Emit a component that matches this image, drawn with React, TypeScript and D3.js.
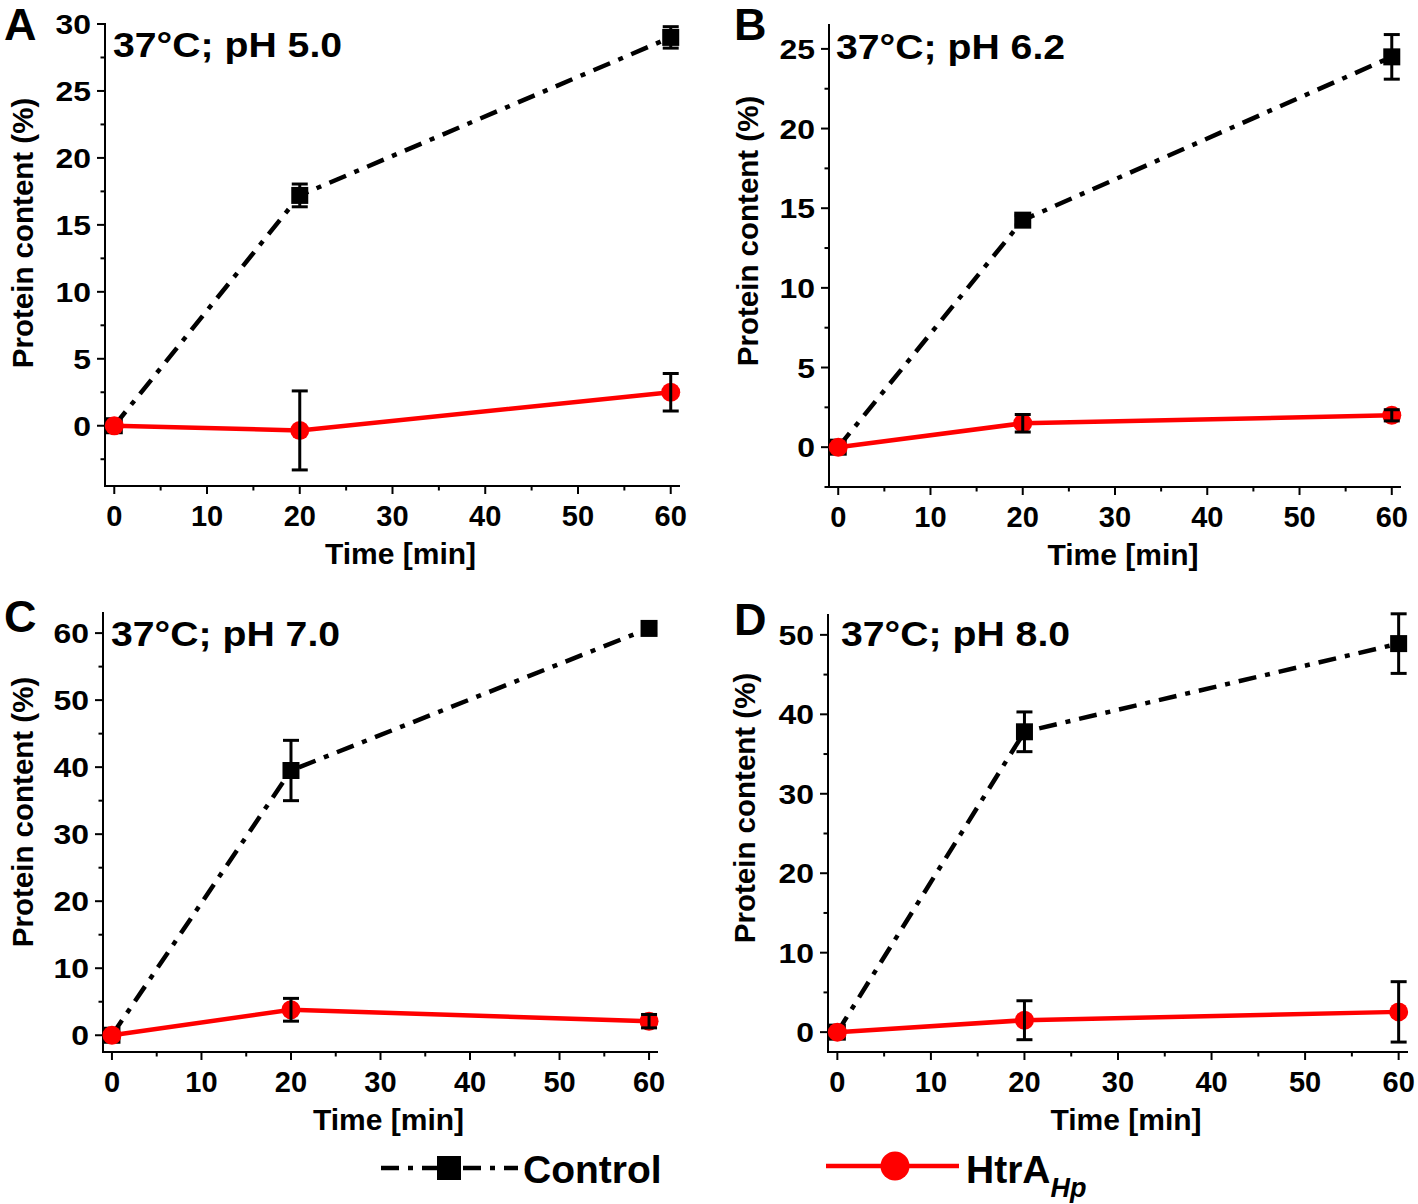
import React from "react";
import * as d3 from "d3";

const times = [0, 20, 60];
const panelLetters = ["A", "B", "C", "D"];
const panelTitles = ["37°C; pH 5.0", "37°C; pH 6.2", "37°C; pH 7.0", "37°C; pH 8.0"];

const controlA = [0, 17.2, 29.0];
const controlErrA = [0, 0.85, 0.8];
const htraA = [0, -0.35, 2.5];
const htraErrA = [0, 2.95, 1.4];

const controlB = [0, 14.25, 24.5];
const controlErrB = [0, 0.3, 1.4];
const htraB = [0, 1.5, 2.0];
const htraErrB = [0, 0.55, 0.35];

const controlC = [0, 39.5, 60.7];
const controlErrC = [0, 4.5, 0.8];
const htraC = [0, 3.8, 2.1];
const htraErrC = [0, 1.7, 1.0];

const controlD = [0, 37.8, 48.9];
const controlErrD = [0, 2.5, 3.75];
const htraD = [0, 1.5, 2.55];
const htraErrD = [0, 2.45, 3.8];

const xDomain = [-1, 61];
const xMajorTicks = [0, 10, 20, 30, 40, 50, 60];
const xMinorTicks = [5, 15, 25, 35, 45, 55];

const yDomainA = [-4.5, 30];
const yMajorA = [0, 5, 10, 15, 20, 25, 30];
const yMinorA = [-2.5, 2.5, 7.5, 12.5, 17.5, 22.5, 27.5];
const yDomainB = [-2.5, 26.5];
const yMajorB = [0, 5, 10, 15, 20, 25];
const yMinorB = [-2.5, 2.5, 7.5, 12.5, 17.5, 22.5];
const yDomainC = [-2.5, 63];
const yMajorC = [0, 10, 20, 30, 40, 50, 60];
const yMinorC = [5, 15, 25, 35, 45, 55];
const yDomainD = [-2.5, 52.5];
const yMajorD = [0, 10, 20, 30, 40, 50];
const yMinorD = [5, 15, 25, 35, 45];

const xTitle = "Time [min]";
const yTitle = "Protein content (%)";
const legendLabels = ["Control", "HtrA", "Hp"];

const FONT = "'Liberation Sans', Arial, Helvetica, sans-serif";
const RED = "#ff0000";
const DASH = "18,9,5,9";

// layout (pixel geometry) for each panel
const layouts = [
  { x0: 105, x1: 680, yb: 486, yt: 24, titleX: 113, titleY: 57, letterX: 4, letterY: 40, yTitleX: 22, yTitleY: 233 },
  { x0: 829, x1: 1401, yb: 487, yt: 25, titleX: 836, titleY: 59, letterX: 734, letterY: 40, yTitleX: 747, yTitleY: 231 },
  { x0: 103, x1: 658, yb: 1052, yt: 613, titleX: 111, titleY: 646, letterX: 4, letterY: 632, yTitleX: 22, yTitleY: 812 },
  { x0: 828, x1: 1408, yb: 1052, yt: 615, titleX: 841, titleY: 646, letterX: 734, letterY: 635, yTitleX: 744, yTitleY: 808 },
];

const panels = [
  { control: controlA, controlErr: controlErrA, htra: htraA, htraErr: htraErrA, yDomain: yDomainA, yMajor: yMajorA, yMinor: yMinorA },
  { control: controlB, controlErr: controlErrB, htra: htraB, htraErr: htraErrB, yDomain: yDomainB, yMajor: yMajorB, yMinor: yMinorB },
  { control: controlC, controlErr: controlErrC, htra: htraC, htraErr: htraErrC, yDomain: yDomainC, yMajor: yMajorC, yMinor: yMinorC },
  { control: controlD, controlErr: controlErrD, htra: htraD, htraErr: htraErrD, yDomain: yDomainD, yMajor: yMajorD, yMinor: yMinorD },
];

function Panel({ idx }: { idx: number }) {
  const p = panels[idx];
  const L = layouts[idx];
  const x = d3.scaleLinear().domain(xDomain).range([L.x0, L.x1]);
  const y = d3.scaleLinear().domain(p.yDomain).range([L.yb, L.yt]);
  const line = d3
    .line<number>()
    .x((_, i) => x(times[i]))
    .y((d) => y(d));
  const majorLen = 8;
  const minorLen = 4.5;
  const cap = 8;

  const errBars = (vals: number[], errs: number[], key: string) =>
    vals.map((v, i) =>
      errs[i] > 0 ? (
        <g key={key + i} stroke="#000" strokeWidth={3}>
          <line x1={x(times[i])} x2={x(times[i])} y1={y(v - errs[i])} y2={y(v + errs[i])} />
          <line x1={x(times[i]) - cap} x2={x(times[i]) + cap} y1={y(v - errs[i])} y2={y(v - errs[i])} />
          <line x1={x(times[i]) - cap} x2={x(times[i]) + cap} y1={y(v + errs[i])} y2={y(v + errs[i])} />
        </g>
      ) : null
    );

  return (
    <g>
      {/* axes */}
      <line x1={L.x0} x2={L.x0} y1={L.yb} y2={L.yt - 1} stroke="#000" strokeWidth={2} />
      <line x1={L.x0 - 1} x2={L.x1} y1={L.yb} y2={L.yb} stroke="#000" strokeWidth={2} />
      {p.yMajor.map((t) => (
        <g key={"ym" + t}>
          <line x1={L.x0 - majorLen} x2={L.x0} y1={y(t)} y2={y(t)} stroke="#000" strokeWidth={2} />
          <text
            transform={`translate(${L.x0 - 14},${y(t) + 10}) scale(1.12,1)`}
            textAnchor="end"
            fontFamily={FONT}
            fontWeight="bold"
            fontSize={28.5}
          >
            {t}
          </text>
        </g>
      ))}
      {p.yMinor.map((t) => (
        <line key={"yn" + t} x1={L.x0 - minorLen} x2={L.x0} y1={y(t)} y2={y(t)} stroke="#000" strokeWidth={2} />
      ))}
      {xMajorTicks.map((t) => (
        <g key={"xm" + t}>
          <line x1={x(t)} x2={x(t)} y1={L.yb} y2={L.yb + majorLen} stroke="#000" strokeWidth={2} />
          <text x={x(t)} y={L.yb + 40} textAnchor="middle" fontFamily={FONT} fontWeight="bold" fontSize={29}>
            {t}
          </text>
        </g>
      ))}
      {xMinorTicks.map((t) => (
        <line key={"xn" + t} x1={x(t)} x2={x(t)} y1={L.yb} y2={L.yb + minorLen} stroke="#000" strokeWidth={2} />
      ))}
      <text
        x={(L.x0 + L.x1) / 2 + 8}
        y={L.yb + 78}
        textAnchor="middle"
        fontFamily={FONT}
        fontWeight="bold"
        fontSize={30}
      >
        {xTitle}
      </text>
      <text
        transform={`translate(${L.yTitleX + 11},${L.yTitleY}) rotate(-90)`}
        textAnchor="middle"
        fontFamily={FONT}
        fontWeight="bold"
        fontSize={29.5}
      >
        {yTitle}
      </text>
      <text
        transform={`translate(${L.titleX},${L.titleY}) scale(1.12,1)`}
        fontFamily={FONT}
        fontWeight="bold"
        fontSize={35}
      >
        {panelTitles[idx]}
      </text>
      <text x={L.letterX} y={L.letterY} fontFamily={FONT} fontWeight="bold" fontSize={45}>
        {panelLetters[idx]}
      </text>

      {/* control series */}
      <path d={line(p.control) || ""} fill="none" stroke="#000" strokeWidth={4.5} strokeDasharray={DASH} />
      {p.control.map((v, i) => (
        <rect key={"cs" + i} x={x(times[i]) - 8.5} y={y(v) - 8.5} width={17} height={17} fill="#000" />
      ))}
      {errBars(p.control, p.controlErr, "ce")}

      {/* HtrA series */}
      <path d={line(p.htra) || ""} fill="none" stroke={RED} strokeWidth={4.5} />
      {p.htra.map((v, i) => (
        <circle key={"hc" + i} cx={x(times[i])} cy={y(v)} r={9.5} fill={RED} />
      ))}
      {errBars(p.htra, p.htraErr, "he")}
    </g>
  );
}

export default function App() {
  return (
    <svg
      width={1418}
      height={1204}
      viewBox="0 0 1418 1204"
      style={{ position: "absolute", left: 0, top: 0, background: "#fff", display: "block" }}
    >
      <rect x={0} y={0} width={1418} height={1204} fill="#fff" />
      {[0, 1, 2, 3].map((i) => (
        <Panel key={i} idx={i} />
      ))}
      {/* legend */}
      <line x1={381} x2={518} y1={1168} y2={1168} stroke="#000" strokeWidth={4.5} strokeDasharray={DASH} />
      <rect x={437} y={1156} width={24} height={24} fill="#000" />
      <text x={523} y={1183} fontFamily={FONT} fontWeight="bold" fontSize={39}>
        {legendLabels[0]}
      </text>
      <line x1={826} x2={959} y1={1166} y2={1166} stroke={RED} strokeWidth={4.5} />
      <circle cx={895} cy={1166} r={14.5} fill={RED} />
      <text x={966} y={1183} fontFamily={FONT} fontWeight="bold" fontSize={39}>
        {legendLabels[1]}
        <tspan dy={14} fontSize={27} fontStyle="italic">
          {legendLabels[2]}
        </tspan>
      </text>
    </svg>
  );
}
